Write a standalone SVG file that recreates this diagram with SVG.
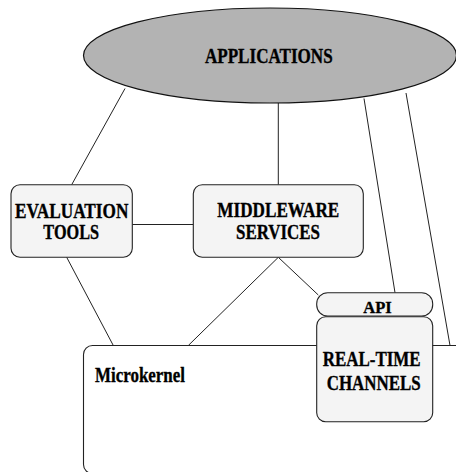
<svg xmlns="http://www.w3.org/2000/svg" width="456" height="472" viewBox="0 0 456 472">
<style>
.n{fill:#f4f4f4;stroke:#222;stroke-width:1.1}
.e{fill:#b3b3b3;stroke:#111;stroke-width:1.2}
.t{font-family:'Liberation Serif','Times New Roman',serif;font-weight:bold;font-size:21px;fill:#000;stroke:#000;stroke-width:0.35;text-anchor:middle}
.c line{stroke:#222;stroke-width:1}
</style>
<rect width="456" height="472" fill="#fff"/>
<g id="microkernel">
<rect x="83.5" y="345.5" width="420" height="128" rx="9" fill="#fff" stroke="#222" stroke-width="1.1"/>
<text class="t" x="95" y="381.7" style="text-anchor:start" textLength="90" lengthAdjust="spacingAndGlyphs">Microkernel</text>
</g>
<g class="c" id="connectors">
<line x1="125" y1="88.5" x2="71.7" y2="184.7"/>
<line x1="278.3" y1="103" x2="278.3" y2="184.7"/>
<line x1="364" y1="98.5" x2="395" y2="292.7"/>
<line x1="406" y1="93" x2="450" y2="345.5"/>
<line x1="132.3" y1="224.5" x2="193.3" y2="224.5"/>
<line x1="66.7" y1="257.3" x2="113.3" y2="345.5"/>
<line x1="278.3" y1="257.3" x2="188.3" y2="345.5"/>
<line x1="278.3" y1="257.3" x2="318.3" y2="295"/>
</g>
<g id="applications">
<ellipse class="e" cx="270" cy="55.5" rx="186.5" ry="47.5"/>
<text class="t" x="268.8" y="63.3" textLength="127.7" lengthAdjust="spacingAndGlyphs">APPLICATIONS</text>
</g>
<g id="evaluation-tools">
<rect class="n" x="11" y="184.7" width="121.3" height="72.6" rx="9"/>
<text class="t" x="71.7" y="217.5" textLength="113.3" lengthAdjust="spacingAndGlyphs">EVALUATION</text>
<text class="t" x="71.2" y="239.3" textLength="55.7" lengthAdjust="spacingAndGlyphs">TOOLS</text>
</g>
<g id="middleware-services">
<rect class="n" x="193.3" y="184.7" width="170" height="72.6" rx="9"/>
<text class="t" x="278.3" y="217.3" textLength="122" lengthAdjust="spacingAndGlyphs">MIDDLEWARE</text>
<text class="t" x="278" y="239.3" textLength="84" lengthAdjust="spacingAndGlyphs">SERVICES</text>
</g>
<g id="api">
<rect class="n" x="316.7" y="292.7" width="116" height="23.3" rx="11"/>
<text class="t" x="377.5" y="313.3" style="font-size:17px" textLength="28.4" lengthAdjust="spacingAndGlyphs">API</text>
</g>
<g id="real-time-channels">
<rect class="n" x="316.7" y="316.7" width="116" height="105" rx="9"/>
<text class="t" x="371.7" y="366" textLength="98" lengthAdjust="spacingAndGlyphs">REAL-TIME</text>
<text class="t" x="373.7" y="390" textLength="94" lengthAdjust="spacingAndGlyphs">CHANNELS</text>
</g>
</svg>
